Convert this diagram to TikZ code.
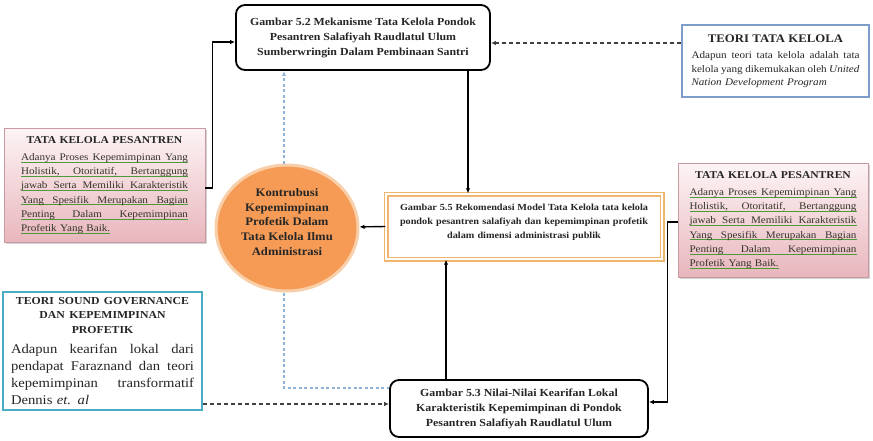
\documentclass[tikz,border=0pt]{standalone}
\usepackage{fontspec}
\setmainfont{Liberation Serif}[FakeStretch=1.1]
\usetikzlibrary{arrows.meta,calc,shadows,shapes.geometric}
\definecolor{txtc}{HTML}{262626}
\definecolor{bodyc}{HTML}{34352A}
\definecolor{pinkT}{HTML}{FDF4F5}
\definecolor{pinkB}{HTML}{E8B6BD}
\definecolor{pinkD}{HTML}{C99AA2}
\definecolor{ulgreen}{HTML}{4E9A3A}
\definecolor{steel}{HTML}{7F9DC9}
\definecolor{teal}{HTML}{4BACC6}
\definecolor{orangeF}{HTML}{F59B56}
\definecolor{orangeR}{HTML}{F9CFA9}
\definecolor{midc}{HTML}{F0B670}
\definecolor{bluedash}{HTML}{8FB3D9}
\definecolor{graydash}{HTML}{404040}
\setlength{\parindent}{0pt}
\newcommand\fs[2]{\fontsize{#1}{#2}\selectfont}
\def\jlendmark{}
\def\spreadw#1 #2\jlendmark{#1\ifx\jlendmark#2\jlendmark\else\hfill\spreadw#2\jlendmark\fi}
\newcommand\jline[1]{\hbox to\hsize{\spreadw#1 \jlendmark}\par}
\newcommand\gline[1]{\leavevmode\rlap{\textcolor{ulgreen}{\rule[-2pt]{\hsize}{0.7pt}}}\hbox to\hsize{\spreadw#1 \jlendmark}\par}
\newcommand\glast[1]{\leavevmode\sbox0{#1}\rlap{\textcolor{ulgreen}{\rule[-2pt]{\wd0}{0.7pt}}}\usebox0\par}
\tikzset{
  rbox/.style={draw=black, line width=1.8pt, rounded corners=9pt, fill=white, align=center, text=txtc, inner sep=0pt},
  pinkbox/.style={draw=pinkD, line width=0.8pt, top color=pinkT, bottom color=pinkB, text width=167pt, align=left,
     inner sep=0pt, drop shadow={shadow xshift=1.5pt, shadow yshift=-1.5pt, opacity=0.35}},
  conn/.style={draw=black, line width=1.4pt, -{Latex[length=5pt,width=4.5pt]}},
  dconn/.style={draw=graydash, line width=1.1pt, dash pattern=on 4pt off 3pt, -{Latex[length=5pt,width=4.5pt]}},
  bconn/.style={draw=bluedash, line width=1.1pt, dash pattern=on 3pt off 2.5pt},
}
\begin{document}
\begin{tikzpicture}[x=1pt,y=-1pt]
\useasboundingbox (0,0) rectangle (873,440);
\fill[white] (0,0) rectangle (873,440);

% top box
\node[rbox, minimum width=254pt, minimum height=65pt, font=\fs{10.8}{15}\bfseries] (top) at (363,37.5)
  {Gambar 5.2 Mekanisme Tata Kelola Pondok\\Pesantren Salafiyah Raudlatul Ulum\\Sumberwringin Dalam Pembinaan Santri};

% teori tata kelola
\node[draw=steel, line width=1.3pt, fill=white, minimum width=187pt, minimum height=72pt, text width=168pt,
      inner sep=0pt, text=txtc, font=\fs{10.1}{13.5}] (ttk) at (775.5,61)
  {{\bfseries\fs{11.6}{14}\centering TEORI TATA KELOLA\par}\vspace{3pt}
   \jline{Adapun teori tata kelola adalah tata}
   \jline{kelola yang dikemukakan oleh \textit{United}}
   \textit{Nation Development Program}\par};

% left pink box
\node[pinkbox, minimum width=201pt, minimum height=114pt, font=\fs{10.1}{14.2}, text=bodyc] (lp) at (104.5,185)
  {{\bfseries\fs{10.5}{14}\centering\color{txtc} TATA KELOLA PESANTREN\par}\vspace{3pt}
   \gline{Adanya Proses Kepemimpinan Yang}
   \gline{Holistik, Otoritatif, Bertanggung}
   \gline{jawab Serta Memiliki Karakteristik}
   \gline{Yang Spesifik Merupakan Bagian}
   \gline{Penting Dalam Kepemimpinan}
   \glast{Profetik Yang Baik.}};

% right pink box
\node[pinkbox, minimum width=190pt, minimum height=114pt, font=\fs{10.1}{14.2}, text=bodyc] (rp) at (773,220)
  {{\bfseries\fs{10.5}{14}\centering\color{txtc} TATA KELOLA PESANTREN\par}\vspace{3pt}
   \gline{Adanya Proses Kepemimpinan Yang}
   \gline{Holistik, Otoritatif, Bertanggung}
   \gline{jawab Serta Memiliki Karakteristik}
   \gline{Yang Spesifik Merupakan Bagian}
   \gline{Penting Dalam Kepemimpinan}
   \glast{Profetik Yang Baik.}};

% ellipse
\node[ellipse, fill=orangeF, draw=orangeR, line width=3pt, minimum width=142pt, minimum height=126pt, inner sep=0pt] (ell) at (287,228) {};
\node[align=center, font=\fs{11.5}{14.8}\bfseries, text=txtc, inner sep=0pt] (ellt) at (287,222)
  {Kontrubusi\\Kepemimpinan\\Profetik Dalam\\Tata Kelola Ilmu\\Administrasi};

% middle box
\node[draw=midc, double=white, double distance=2.2pt, line width=1.4pt, fill=white, minimum width=276pt, minimum height=65pt,
      text width=248pt, inner sep=0pt, text=txtc, font=\fs{9.3}{14}\bfseries] (mid) at (524,226.5)
  {\jline{Gambar 5.5 Rekomendasi Model Tata Kelola tata kelola}
   \jline{pondok pesantren salafiyah dan kepemimpinan profetik}
   \hbox to\hsize{\hfil dalam dimensi administrasi publik\hfil}\par\vspace{9pt}};

% sound governance box
\node[draw=teal, line width=1.8pt, fill=white, minimum width=199pt, minimum height=118pt, text width=183pt,
      inner sep=0pt, text=txtc, font=\fs{13.3}{17}] (sg) at (102.5,351)
  {{\bfseries\fs{10.7}{14.5}\centering TEORI SOUND GOVERNANCE\\DAN KEPEMIMPINAN\\PROFETIK\par}\vspace{3pt}
   \jline{Adapun kearifan lokal dari}
   \jline{pendapat Faraznand dan teori}
   \jline{kepemimpinan transformatif}
   Dennis \textit{et. al}\par};

% bottom box
\node[rbox, minimum width=258pt, minimum height=57pt, font=\fs{10.8}{15}\bfseries] (bot) at (519,408.5)
  {Gambar 5.3 Nilai-Nilai Kearifan Lokal\\Karakteristik Kepemimpinan di Pondok\\Pesantren Salafiyah Raudlatul Ulum};

% connectors
\draw[conn] (lp.east |- 0,188) -- ++(7,0) |- ([yshift=-4.5pt]top.west);
\draw[dconn] (ttk.west |- 0,43) -- (top.east |- 0,43);
\draw[conn] (top.south -| 468,0) -- (mid.north -| 468,0);
\draw[conn] (mid.west) -- (ell);
\draw[conn] (bot.north -| 446,0) -- (mid.south -| 446,0);
\draw[conn] (rp.west |- 0,222) -- ++(-10,0) |- (bot.east |- 0,402);
\draw[dconn] (sg.east |- 0,404) -- (bot.west |- 0,404);
\draw[bconn, -{Latex[length=5pt,width=4pt]}] (ell.north -| 284,0) -- (top.south -| 284,0);
\draw[bconn] (ell.south -| 284,0) |- (bot.west |- 0,388);
\end{tikzpicture}
\end{document}
